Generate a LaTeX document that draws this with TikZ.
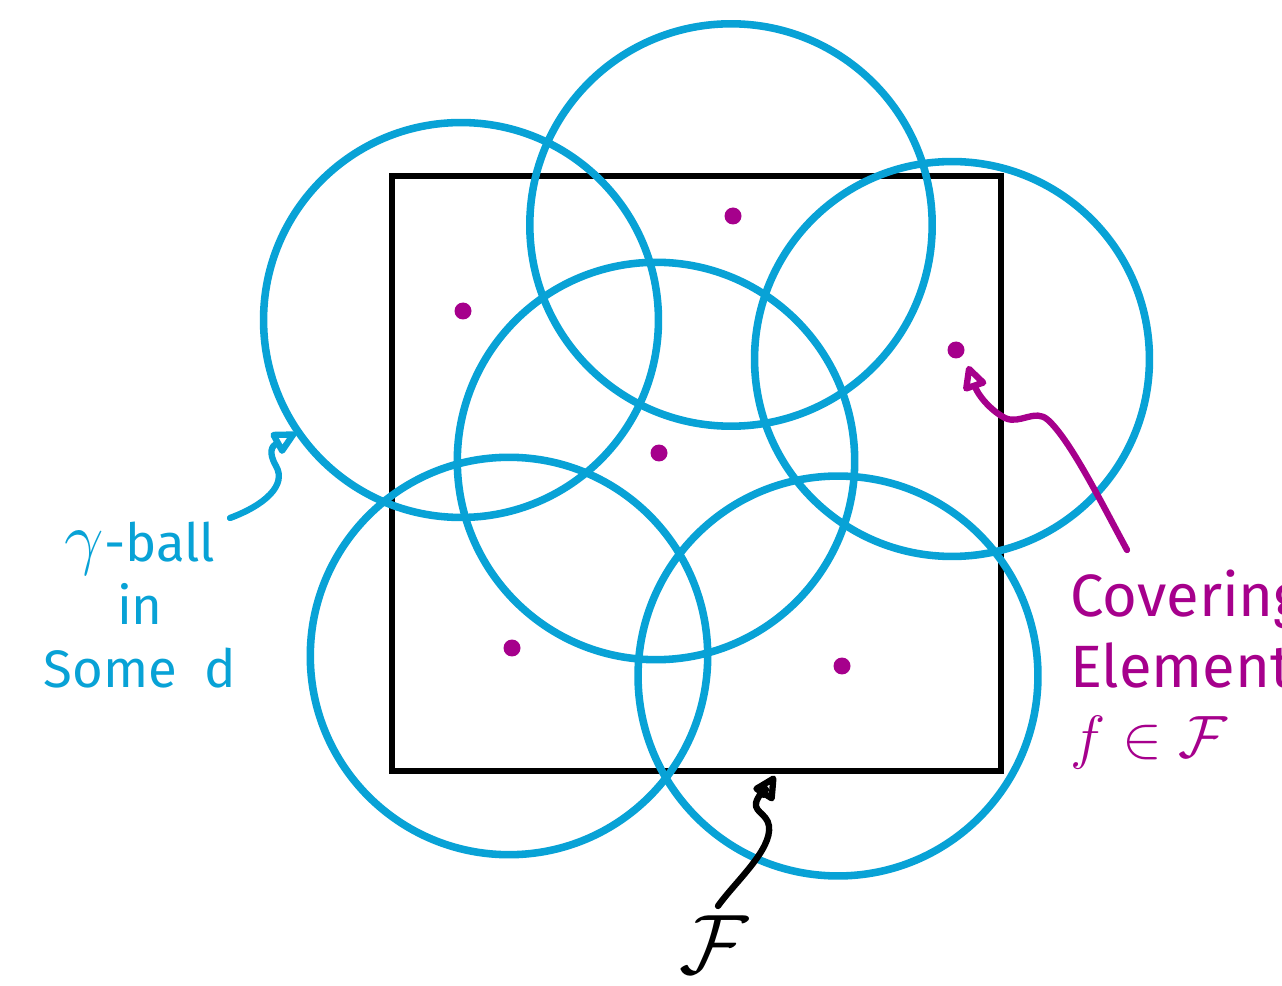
\RequirePackage{fix-cm}
\documentclass[tikz,border=0pt]{standalone}
\usepackage{fontspec}
\setmainfont{Fira Sans}
\usetikzlibrary{arrows.meta}
\definecolor{ballblue}{RGB}{8,162,214}
\definecolor{elemmag}{RGB}{166,0,140}
\tikzset{
  ball/.style={circle,draw=ballblue,line width=4.3pt,minimum size=#1,inner sep=0pt},
  elem/.style={circle,fill=elemmag,minimum size=0.34cm,inner sep=0pt},
  pen/.style={line width=3.6pt,line cap=round,line join=round},
  tip/.style={-{Triangle[open,length=16pt,width=15pt,line join=round]}},
  lab/.style={font=\fontsize{30}{36}\selectfont,inner sep=0pt}
}
\begin{document}
\begin{tikzpicture}[x=0.02cm,y=-0.02cm]
\useasboundingbox (0,0) rectangle (1282,986);
\clip (0,0) rectangle (1282,986);
\fill[white] (0,0) rectangle (1282,986);
% square F
\node[draw=black,line width=3.4pt,minimum width=12.18cm,minimum height=11.9cm,inner sep=0pt] (F) at (696.5,473.5) {};
% balls
\node[ball=7.9cm] (b1) at (461,320) {};
\node[ball=8.05cm] (b2) at (731,225) {};
\node[ball=7.9cm] (b3) at (952,359) {};
\node[ball=7.95cm] (b4) at (656,461) {};
\node[ball=7.95cm] (b5) at (509,656) {};
\node[ball=8.0cm] (b6) at (838,676) {};
% covering elements
\node[elem] (e1) at (733,216) {};
\node[elem] (e2) at (463,311) {};
\node[elem] (e3) at (956,350) {};
\node[elem] (e4) at (659,453) {};
\node[elem] (e5) at (512,648) {};
\node[elem] (e6) at (842,666) {};
% labels
\node[lab,text=ballblue,align=center] (lball) at (140,605) {{\fontsize{40}{36}\selectfont$\gamma$}-ball\\in\\Some\ \ d};
\node[lab,text=elemmag,align=left,anchor=north west,font=\fontsize{34}{40}\selectfont] (lelem) at (1070,570) {Covering\\Element\\$f\in\mathcal{F}$};
\node[lab,text=black,font=\fontsize{48}{54}\selectfont] (lF) at (714,945) {$\mathcal{F}$};
% connector end points
\coordinate (aball) at (296,433);
\coordinate (aelem) at (968,366);
\coordinate (aF) at (775,776);
\coordinate (sball) at (230,518);
\coordinate (selem) at (1127,550);
\coordinate (sF) at (718,906);
% connectors
\draw[pen,ballblue,tip] (sball) .. controls (265,505) and (287,485) .. (276,466)
  .. controls (268,452) and (272,446) .. (aball);
\draw[pen,elemmag,tip] (selem) .. controls (1100,500) and (1070,440) .. (1048,420)
  .. controls (1035,408) and (1020,425) .. (1005,418)
  .. controls (990,410) and (978,395) .. (aelem);
\draw[pen,black,tip] (sF) .. controls (735,882) and (772,850) .. (769,826)
  .. controls (767,812) and (750,812) .. (758,798) .. controls (762,790) and (770,784) .. (aF);
\end{tikzpicture}
\end{document}
